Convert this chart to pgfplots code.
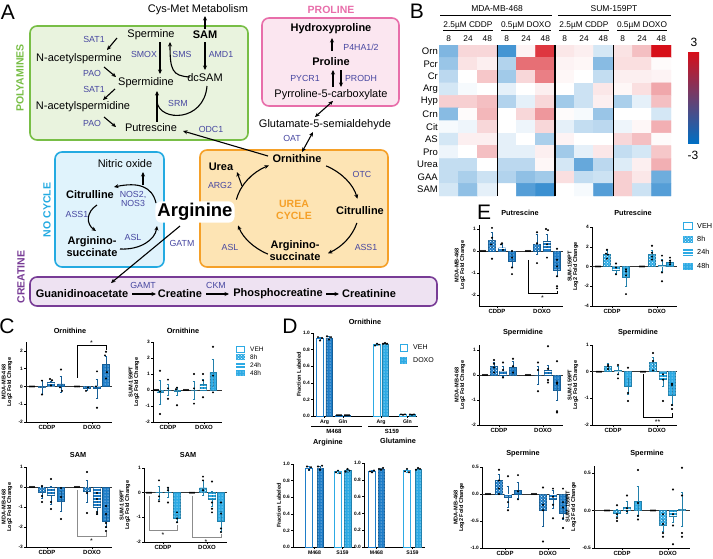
\documentclass[border=0pt]{standalone}
\usepackage{fontspec}
\setmainfont{Liberation Sans}
\usepackage{pgfplots}
\pgfplotsset{compat=1.18}
\usetikzlibrary{patterns,arrows.meta}

\definecolor{mda}{RGB}{30,125,200}
\definecolor{sumc}{RGB}{45,170,228}
\definecolor{enz}{RGB}{70,70,160}
\definecolor{gbox}{RGB}{120,190,70}
\definecolor{gfill}{RGB}{233,243,222}
\definecolor{pbox}{RGB}{232,110,170}
\definecolor{pfill}{RGB}{251,230,240}
\definecolor{bbox}{RGB}{35,170,225}
\definecolor{bfill}{RGB}{224,243,252}
\definecolor{obox}{RGB}{245,160,40}
\definecolor{ofill}{RGB}{253,228,180}
\definecolor{vbox}{RGB}{120,60,150}
\definecolor{vfill}{RGB}{238,226,242}

\newcommand{\fs}[1]{\fontsize{#1}{#1}\selectfont}

\pgfplotsset{
 gp/.style={scale only axis, anchor=south west, axis lines=left, axis line style={-, line width=0.6pt},
  every tick/.style={black, line width=0.5pt}, major tick length=2pt, tick align=outside, clip=false, enlargelimits=false,
  yticklabel style={font=\bfseries\fs{4.8}, inner sep=1pt},
  xticklabel style={font=\bfseries\fs{6}, inner sep=1.5pt},
  ylabel style={font=\bfseries\fs{5.6}, align=center, inner sep=1pt},
  /pgf/number format/assume math mode=true,
  extra y ticks={0}, extra y tick labels={}, extra y tick style={grid=major, major grid style={black!80, line width=0.5pt}}},
 dp/.style={scale only axis, anchor=south west, axis lines=left, axis line style={-, line width=0.6pt},
  every tick/.style={black, line width=0.5pt}, major tick length=2pt, tick align=outside, clip=false, enlargelimits=false,
  ymin=0, ymax=1, ytick={0,0.2,0.4,0.6,0.8,1},
  yticklabel style={font=\bfseries\fs{4.8}, inner sep=1pt, /pgf/number format/.cd, fixed, fixed zerofill, precision=1},
  xticklabel style={font=\bfseries\fs{5.2}, inner sep=1.5pt},
  ylabel style={font=\bfseries\fs{5.6}, align=center, inner sep=1pt},
  /pgf/number format/assume math mode=true},
}

\newcommand{\bset}[4]{%
 \addplot[ybar, bar width=#4, bar shift=0pt, fill=#1, draw=#1!75!black, line width=0.4pt,
   error bars/.cd, y dir=both, y explicit, error bar style={#1!75!black, line width=0.5pt},
   error mark options={rotate=90, mark size=1.4pt, #1!75!black, line width=0.5pt}] coordinates {#3};
 \addplot[ybar, bar width=#4, bar shift=0pt, draw=none, pattern=#2, pattern color=white] coordinates {#3};
}
\newcommand{\vset}[3]{%
 \addplot[ybar, bar width=#3, bar shift=0pt, fill=white, draw=#1, line width=0.7pt,
   error bars/.cd, y dir=both, y explicit, error bar style={#1, line width=0.5pt},
   error mark options={rotate=90, mark size=1.4pt, #1, line width=0.5pt}] coordinates {#2};
}
\newcommand{\pset}[1]{\addplot[only marks, mark=*, mark size=0.8pt, black] coordinates {#1};}

\tikzset{met/.style={font=\fs{11}, inner sep=0pt},
 bmet/.style={font=\bfseries\fs{11}, inner sep=0pt},
 enzt/.style={font=\fs{8.8}, text=enz, inner sep=0pt},
 arr/.style={-{Stealth[length=4.5pt,width=4pt]}, line width=1.1pt},
 darr/.style={{Stealth[length=4.5pt,width=4pt]}-{Stealth[length=4.5pt,width=4pt]}, line width=1.1pt},
 ttl/.style={font=\bfseries\fs{7.3}, inner sep=0pt}}

\begin{document}
\begin{tikzpicture}
\useasboundingbox (0,0) rectangle (713pt,-558pt);

%================ PANEL B heatmap
\begin{axis}[scale only axis, at={(439pt,-196pt)}, anchor=south west, width=232pt, height=151pt,
  xmin=-0.5, xmax=11.5, ymin=-0.5, ymax=11.5, y dir=reverse, enlargelimits=false,
  axis line style={draw=none}, tick style={draw=none}, xtick=\empty, ytick={0,...,11},
  yticklabels={Orn,Pcr,Cr,Arg,Hyp,Crn,Cit,AS,Pro,Urea,GAA,SAM},
  yticklabel style={font=\fs{9.5}, inner sep=1pt},
  colormap={bwr}{rgb255=(0,110,195) rgb255=(255,255,255) rgb255=(215,15,25)},
  point meta min=-3, point meta max=3]
\addplot[matrix plot*, mesh/cols=12, point meta=explicit] table[row sep=\\, meta=z] {
x y z\\
0 0 -1.5\\ 1 0 0.5\\ 2 0 0.5\\ 3 0 -2.2\\ 4 0 0.15\\ 5 0 2.5\\ 6 0 0.3\\ 7 0 0.2\\ 8 0 -0.5\\ 9 0 0.35\\ 10 0 0.8\\ 11 0 3\\
0 1 -1.2\\ 1 1 0.35\\ 2 1 0.2\\ 3 1 -0.9\\ 4 1 1.8\\ 5 1 1.8\\ 6 1 0.15\\ 7 1 0.1\\ 8 1 -1.4\\ 9 1 0.4\\ 10 1 0.4\\ 11 1 0.05\\
0 2 -0.8\\ 1 2 0\\ 2 2 0.7\\ 3 2 -1.1\\ 4 2 0.5\\ 5 2 1.6\\ 6 2 0.1\\ 7 2 0\\ 8 2 -0.7\\ 9 2 0.2\\ 10 2 0.2\\ 11 2 0.15\\
0 3 -0.5\\ 1 3 -0.1\\ 2 3 0\\ 3 3 -0.3\\ 4 3 0\\ 5 3 0.2\\ 6 3 0\\ 7 3 -0.6\\ 8 3 0.3\\ 9 3 0.1\\ 10 3 0.4\\ 11 3 1.1\\
0 4 0.6\\ 1 4 0.6\\ 2 4 0.8\\ 3 4 -0.9\\ 4 4 -0.3\\ 5 4 0.5\\ 6 4 -1.1\\ 7 4 -0.6\\ 8 4 0.2\\ 9 4 -1.0\\ 10 4 -0.3\\ 11 4 0.8\\
0 5 -1.4\\ 1 5 0.05\\ 2 5 0.9\\ 3 5 0\\ 4 5 0.5\\ 5 5 1.3\\ 6 5 0.05\\ 7 5 -0.1\\ 8 5 -1.2\\ 9 5 0\\ 10 5 0\\ 11 5 -0.5\\
0 6 -0.1\\ 1 6 -0.2\\ 2 6 0.5\\ 3 6 0\\ 4 6 -0.2\\ 5 6 0.5\\ 6 6 -0.3\\ 7 6 -0.7\\ 8 6 -0.8\\ 9 6 -0.2\\ 10 6 0.1\\ 11 6 1.0\\
0 7 -0.5\\ 1 7 0.2\\ 2 7 0.2\\ 3 7 -0.3\\ 4 7 0\\ 5 7 -1.0\\ 6 7 0.15\\ 7 7 0\\ 8 7 0\\ 9 7 0.5\\ 10 7 0.8\\ 11 7 0.05\\
0 8 -0.2\\ 1 8 0\\ 2 8 0.8\\ 3 8 -0.3\\ 4 8 -0.3\\ 5 8 0.2\\ 6 8 -1.1\\ 7 8 -0.3\\ 8 8 0.3\\ 9 8 -0.7\\ 10 8 -0.5\\ 11 8 0.7\\
0 9 -0.7\\ 1 9 -0.7\\ 2 9 0\\ 3 9 -0.8\\ 4 9 -0.8\\ 5 9 0.1\\ 6 9 -0.5\\ 7 9 -1.8\\ 8 9 -0.8\\ 9 9 -0.4\\ 10 9 0.2\\ 11 9 1.0\\
0 10 -0.7\\ 1 10 -1.0\\ 2 10 -0.6\\ 3 10 -0.9\\ 4 10 -1.3\\ 5 10 -1.1\\ 6 10 0.4\\ 7 10 -0.7\\ 8 10 -0.6\\ 9 10 0.6\\ 10 10 0.3\\ 11 10 -1.7\\
0 11 -0.5\\ 1 11 -1.3\\ 2 11 -0.3\\ 3 11 0\\ 4 11 -2.0\\ 5 11 -2.3\\ 6 11 0\\ 7 11 -0.1\\ 8 11 -2.0\\ 9 11 0.6\\ 10 11 -0.6\\ 11 11 -2.0\\
};
\end{axis}
\shade[top color={rgb,255:red,215;green,15;blue,25}, middle color=white, bottom color={rgb,255:red,0;green,110;blue,195}] (688pt,-52pt) rectangle (699pt,-143pt);

%================ PANEL C
\begin{axis}[gp, at={(26pt,-422pt)}, width=86pt, height=80pt, xmin=26, xmax=112, ymin=-2, ymax=2.5,
  ytick={-2,-1,0,1,2}, xtick={47,92}, xticklabels={CDDP,DOXO}, ylabel={MDA-MB-468\\Log2 Fold Change}]
\bset{mda}{crosshatch dots}{(42,-0.05)+-(0,0.4) (87,-0.1)+-(0,0.1)}{7}
\bset{mda}{horizontal lines}{(51,0.22)+-(0,0.1) (97,-0.12)+-(0,0.55)}{7}
\bset{mda}{dots}{(61,0.15)+-(0,0.45) (106,1.25)+-(0,0.45)}{7}
\pset{(30,0)(32,0)(34,0)(75,0)(77,0)(79,0)(42,0.33)(42,-0.45)(50,0.42)(52,0.35)(51,0.05)(61,0.95)(60,-0.05)(62,-0.25)(86,-0.25)(88,-0.05)(97,0.85)(97,-1.2)(96,0.0)(106,1.95)(105,1.75)(107,0.8)(106,0.45)}
\draw[line width=0.5pt] (axis cs:77,0.5)--(axis cs:77,2.3)--(axis cs:106,2.3)--(axis cs:106,2.05);
\node[font=\fs{7}] at (axis cs:91.5,2.42) {*};
\end{axis}

\begin{axis}[gp, at={(153pt,-422pt)}, width=69pt, height=80pt, xmin=153, xmax=222, ymin=-2, ymax=3,
  ytick={-2,-1,0,1,2,3}, xtick={168,204}, xticklabels={CDDP,DOXO}, ylabel={SUM-159PT\\Log2 Fold Change}]
\bset{sumc}{crosshatch dots}{(160,-0.15)+-(0,0.75) (194,0.0)+-(0,0.55)}{6.5}
\bset{sumc}{horizontal lines}{(168,0.0)+-(0,0.35) (203,0.35)+-(0,0.3)}{6.5}
\bset{sumc}{dots}{(177,-0.1)+-(0,0.25) (213,1.1)+-(0,0.85)}{6.5}
\pset{(154,0)(156,0)(158,0)(184,0)(186,0)(188,0)(160,1.2)(160,-0.1)(160,-1.5)(168,0.65)(168,0.1)(168,-0.55)(177,0.15)(176,0.05)(177,-0.95)(194,1.0)(194,0.1)(194,-0.85)(203,1.0)(203,0.6)(203,-0.45)(213,2.7)(213,0.9)(213,-0.15)}
\end{axis}

\begin{axis}[gp, at={(26pt,-547pt)}, width=86pt, height=80pt, xmin=26, xmax=112, ymin=-3, ymax=1,
  ytick={-3,-2,-1,0,1}, xtick={47,92}, xticklabels={CDDP,DOXO}, ylabel={MDA-MB-468\\Log2 Fold Change}]
\bset{mda}{crosshatch dots}{(42,-0.25)+-(0,0.3) (87,-0.2)+-(0,0.55)}{7}
\bset{mda}{horizontal lines}{(51,-0.4)+-(0,0.45) (97,-1.0)+-(0,0.35)}{7}
\bset{mda}{dots}{(61,-0.7)+-(0,0.5) (106,-1.7)+-(0,0.3)}{7}
\pset{(30,0)(32,0)(34,0)(75,0)(77,0)(79,0)(42,0.05)(42,-0.45)(42,-0.75)(51,0.4)(51,-0.75)(51,-1.1)(61,-0.05)(61,-0.5)(61,-1.6)(87,0.75)(87,-0.3)(87,-1.3)(97,-0.3)(97,-0.6)(97,-1.25)(97,-1.35)(106,-0.95)(106,-1.35)(106,-1.8)(106,-2.0)(106,-2.2)}
\draw[black!45, line width=0.8pt] (axis cs:77,-0.15)--(axis cs:77,-2.45)--(axis cs:106,-2.45)--(axis cs:106,-2.25);
\node[font=\fs{7}] at (axis cs:91.5,-2.72) {*};
\end{axis}

\begin{axis}[gp, at={(144pt,-542pt)}, width=83pt, height=74pt, xmin=144, xmax=227, ymin=-2, ymax=1,
  ytick={-2,-1,0,1}, xtick={163,207}, xticklabels={CDDP,DOXO}, ylabel={SUM-159PT\\Log2 Fold Change}]
\bset{sumc}{crosshatch dots}{(159,0.0)+-(0,0.28) (203,0.2)+-(0,0.3)}{7}
\bset{sumc}{horizontal lines}{(168,0.0)+-(0,0.2) (212,-0.25)+-(0,0.3)}{7}
\bset{sumc}{dots}{(177,-1.05)+-(0,0.15) (221,-1.15)+-(0,0.4)}{7}
\pset{(147,0)(149,0)(151,0)(190,0)(192,0)(194,0)(159,0.5)(159,-0.15)(159,-0.35)(168,0.2)(168,0.1)(168,-0.4)(177,-0.8)(177,-1.05)(177,-1.2)(203,0.65)(203,0.5)(203,0.1)(212,0.45)(212,-0.4)(212,-0.65)(212,-0.8)(221,-0.4)(221,-0.85)(221,-1.45)(221,-1.6)}
\draw[black!45, line width=0.8pt] (axis cs:149,-0.12)--(axis cs:149,-1.52)--(axis cs:177,-1.52)--(axis cs:177,-1.32);
\node[font=\fs{7}] at (axis cs:163,-1.72) {*};
\draw[black!45, line width=0.8pt] (axis cs:192,-0.12)--(axis cs:192,-1.8)--(axis cs:221,-1.8)--(axis cs:221,-1.68);
\node[font=\fs{7}] at (axis cs:206,-2.0) {*};
\end{axis}

%================ PANEL D
\begin{axis}[dp, at={(313pt,-416pt)}, width=104pt, height=83pt, xmin=313, xmax=417,
  xtick={324.5,343,381,407.5}, xticklabels={Arg,Gln,Arg,Gln}, ylabel={Fraction Labeled}]
\vset{mda}{(320,0.93)+-(0,0.02) (339,0.01)+-(0,0.003)}{6.5}
\vset{sumc}{(377,0.86)+-(0,0.01) (403,0.02)+-(0,0.004)}{6.5}
\bset{mda}{dots}{(329,0.94)+-(0,0.02) (347,0.01)+-(0,0.003)}{6.5}
\bset{sumc}{dots}{(385,0.87)+-(0,0.01) (412,0.02)+-(0,0.004)}{6.5}
\pset{(318,0.95)(320,0.91)(322,0.94)(327,0.96)(329,0.92)(331,0.95)(375,0.85)(377,0.87)(379,0.86)(383,0.87)(385,0.88)(387,0.87)(337,0.01)(339,0.01)(341,0.01)(345,0.01)(347,0.01)(349,0.01)(401,0.02)(403,0.015)(405,0.02)(410,0.02)(412,0.015)(414,0.02)}
\end{axis}

\begin{axis}[dp, at={(293pt,-547pt)}, width=62pt, height=83pt, xmin=293, xmax=355,
  xtick={314.5,342.5}, xticklabels={M468,S159}, ylabel={Fraction Labeled}]
\vset{mda}{(309,0.95)+-(0,0.02)}{6.5}
\vset{sumc}{(338,0.91)+-(0,0.02)}{6.5}
\bset{mda}{dots}{(320,0.95)+-(0,0.02)}{6.5}
\bset{sumc}{dots}{(347.5,0.92)+-(0,0.02)}{6.5}
\pset{(307,0.97)(309,0.93)(311,0.96)(318,0.97)(320,0.93)(322,0.98)(336,0.90)(338,0.92)(340,0.89)(345.5,0.91)(347.5,0.94)(349.5,0.92)}
\end{axis}

\begin{axis}[dp, at={(364pt,-547pt)}, width=61pt, height=84pt, xmin=364, xmax=425,
  xtick={376.5,412.5}, xticklabels={M468,S159}]
\vset{mda}{(372,0.90)+-(0,0.01)}{6.5}
\vset{sumc}{(407,0.91)+-(0,0.02)}{6.5}
\bset{mda}{dots}{(381,0.93)+-(0,0.01)}{6.5}
\bset{sumc}{dots}{(418,0.93)+-(0,0.01)}{6.5}
\pset{(370,0.90)(372,0.89)(374,0.91)(379,0.93)(381,0.92)(383,0.94)(405,0.90)(407,0.93)(409,0.89)(416,0.92)(418,0.94)(420,0.93)}
\end{axis}

%================ PANEL E
\begin{axis}[gp, at={(479pt,-306pt)}, width=84pt, height=81.4pt, xmin=479, xmax=563, ymin=-2.5, ymax=1.2,
  ytick={-2,-1,0,1}, xtick={497,542}, xticklabels={CDDP,DOXO}, ylabel={MDA-MB-468\\Log2 Fold Change}]
\bset{mda}{crosshatch dots}{(492,0.5)+-(0,0.35) (537,0.3)+-(0,0.45)}{7}
\bset{mda}{horizontal lines}{(502,0.15)+-(0,0.15) (547,0.45)+-(0,0.3)}{7}
\bset{mda}{dots}{(512,-0.45)+-(0,0.3) (557,-0.85)+-(0,0.3)}{7}
\pset{(481,0)(483,0)(485,0)(526,0)(528,0)(530,0)(492,1.05)(492,0.6)(491,0.3)(492,-0.35)(502,0.35)(501,0.3)(503,0.05)(512,0.0)(512,-0.3)(512,-0.75)(512,-1.05)(537,0.85)(537,0.35)(537,-0.55)(546,1.0)(548,0.95)(547,0.3)(547,-0.3)(557,0.1)(557,-0.4)(557,-0.7)(557,-1.15)(557,-1.6)(557,-1.7)}
\draw[line width=0.5pt] (axis cs:528,-0.4)--(axis cs:528,-1.9)--(axis cs:557,-1.9)--(axis cs:557,-1.8);
\node[font=\fs{7}] at (axis cs:542.5,-2.12) {*};
\end{axis}

\begin{axis}[gp, at={(592pt,-306pt)}, width=85pt, height=79pt, xmin=592, xmax=677, ymin=-4, ymax=4,
  ytick={-4,-2,0,2,4}, xtick={612,657}, xticklabels={CDDP,DOXO}, ylabel={SUM-159PT\\Log2 Fold Change}]
\bset{sumc}{crosshatch dots}{(607,1.2)+-(0,0.45) (652,1.2)+-(0,0.45)}{7}
\bset{sumc}{horizontal lines}{(616,-0.4)+-(0,0.3) (662,0.1)+-(0,0.6)}{7}
\bset{sumc}{dots}{(626,-1.1)+-(0,0.9) (670,0.4)+-(0,0.2)}{7}
\pset{(596,0)(598,0)(600,0)(640,0)(642,0)(644,0)(607,1.7)(606,1.3)(608,1.2)(607,0.8)(616,0.3)(616,-0.1)(616,-0.8)(626,-0.3)(626,-0.5)(626,-0.9)(626,-2.8)(652,2.1)(652,1.4)(652,1.0)(652,0.7)(662,1.1)(662,0.6)(662,-0.6)(662,-1.5)(670,0.9)(670,0.6)(670,0.4)(670,0.2)}
\end{axis}

\begin{axis}[gp, at={(479pt,-425pt)}, width=84pt, height=80pt, xmin=479, xmax=563, ymin=-2, ymax=1.2,
  ytick={-2,-1,0,1}, xtick={499,543}, xticklabels={CDDP,DOXO}, ylabel={MDA-MB-468\\Log2 Fold Change}]
\bset{mda}{crosshatch dots}{(494,0.35)+-(0,0.15) (538,0.0)+-(0,0.35)}{7}
\bset{mda}{horizontal lines}{(503,0.15)+-(0,0.2) (548,0.2)+-(0,0.2)}{7}
\bset{mda}{dots}{(513,0.3)+-(0,0.25) (557,-0.6)+-(0,0.4)}{7}
\pset{(483,0)(485,0)(487,0)(526,0)(528,0)(530,0)(494,0.6)(494,0.45)(494,0.3)(494,0.1)(503,0.5)(503,0.2)(503,-0.1)(513,0.65)(513,0.35)(513,0.1)(538,0.5)(538,0.2)(538,-0.65)(548,1.15)(548,0.25)(548,-0.2)(548,-0.3)(557,0.55)(557,-0.3)(557,-0.35)(557,-1.45)(557,-1.5)}
\end{axis}

\begin{axis}[gp, at={(592pt,-425pt)}, width=85pt, height=80pt, xmin=592, xmax=677, ymin=-2, ymax=1,
  ytick={-2,-1,0,1}, xtick={613,657}, xticklabels={CDDP,DOXO}, ylabel={SUM-159PT\\Log2 Fold Change}]
\bset{sumc}{crosshatch dots}{(608,0.2)+-(0,0.1) (653,0.35)+-(0,0.2)}{7}
\bset{sumc}{horizontal lines}{(618,0.05)+-(0,0.15) (663,-0.3)+-(0,0.25)}{7}
\bset{sumc}{dots}{(628,-0.55)+-(0,0.3) (672,-0.9)+-(0,0.35)}{7}
\pset{(597,0)(599,0)(601,0)(641,0)(643,0)(645,0)(608,0.25)(608,0.2)(608,0.1)(618,0.25)(618,-0.1)(618,-0.25)(628,0.15)(628,-0.8)(628,-1.1)(653,0.7)(653,0.4)(653,0.05)(663,-0.1)(663,-0.3)(663,-1.1)(672,-0.45)(672,-0.5)(672,-1.25)(672,-1.4)}
\draw[line width=0.5pt] (axis cs:643,-0.1)--(axis cs:643,-1.7)--(axis cs:672,-1.7)--(axis cs:672,-1.55);
\node[font=\fs{7}] at (axis cs:657.5,-1.9) {**};
\end{axis}

\begin{axis}[gp, at={(482pt,-548pt)}, width=88pt, height=81pt, xmin=482, xmax=570, ymin=-1, ymax=0.5,
  ytick={-1,-0.5,0,0.5}, yticklabel style={/pgf/number format/.cd, fixed, fixed zerofill, precision=1},
  xtick={505,548}, xticklabels={CDDP,DOXO}, ylabel={MDA-MB-468\\Log2 Fold Change}]
\bset{mda}{crosshatch dots}{(499,0.25)+-(0,0.12) (543,-0.3)+-(0,0.3)}{7}
\bset{mda}{horizontal lines}{(508,-0.05)+-(0,0.2) (553,-0.1)+-(0,0.17)}{7}
\bset{mda}{dots}{(518,0.07)+-(0,0.15) (563,-0.35)+-(0,0.12)}{7}
\pset{(486,0)(488,0)(490,0)(532,0)(534,0)(536,0)(499,0.45)(499,0.25)(499,0.1)(499,0.0)(508,0.33)(508,-0.15)(508,-0.3)(518,0.35)(518,0.05)(518,-0.1)(543,0.12)(543,-0.2)(543,-0.3)(543,-0.88)(553,0.1)(553,-0.05)(553,-0.2)(553,-0.45)(563,0.1)(563,-0.15)(563,-0.25)(563,-0.45)(563,-0.63)}
\end{axis}

\begin{axis}[gp, at={(594pt,-548pt)}, width=96pt, height=82.5pt, xmin=594, xmax=690, ymin=-0.5, ymax=0.6,
  ytick={-0.5,0,0.5}, yticklabel style={/pgf/number format/.cd, fixed, fixed zerofill, precision=1},
  xtick={622,668}, xticklabels={CDDP,DOXO}, ylabel={SUM-159PT\\Log2 Fold Change}]
\bset{sumc}{crosshatch dots}{(617,-0.03)+-(0,0.05) (663,-0.2)+-(0,0.08)}{7}
\bset{sumc}{horizontal lines}{(627,0.04)+-(0,0.08) (673,-0.08)+-(0,0.08)}{7}
\bset{sumc}{dots}{(638,0.12)+-(0,0.2) (682,0.02)+-(0,0.23)}{7}
\pset{(605,0)(607,0)(609,0)(651,0)(653,0)(655,0)(617,0.07)(617,-0.05)(617,-0.1)(617,-0.14)(627,0.2)(627,0.03)(627,-0.01)(638,0.54)(638,0.1)(638,-0.07)(638,-0.12)(663,-0.05)(663,-0.18)(663,-0.3)(663,-0.35)(673,0.28)(673,-0.05)(673,-0.2)(673,-0.45)(682,0.57)(682,0.2)(682,-0.3)(682,-0.35)}
\end{axis}

%================ annotations and diagram
\begin{scope}[x=1pt,y=-1pt]
% panel letters
\node[font=\fs{21}, inner sep=0pt] at (8,12) {A};
\node[font=\fs{21}, inner sep=0pt] at (417,11) {B};
\node[font=\fs{21}, inner sep=0pt] at (7,326) {C};
\node[font=\fs{21}, inner sep=0pt] at (290,326) {D};
\node[font=\fs{21}, inner sep=0pt] at (484,212) {E};

% heatmap header
\node[font=\fs{8.5}, inner sep=0pt] at (497,9) {MDA-MB-468};
\draw[line width=0.8pt] (440,15)--(552,15);
\node[font=\fs{8.5}, inner sep=0pt] at (614,9) {SUM-159PT};
\draw[line width=0.8pt] (558,15)--(671,15);
\foreach \cx/\lab in {468/{2.5µM CDDP},526/{0.5µM DOXO},584/{2.5µM CDDP},642/{0.5µM DOXO}}
  \node[font=\fs{8.3}, inner sep=0pt] at (\cx,26) {\underline{\lab}};
\foreach \i/\lab in {0/8,1/24,2/48,3/8,4/24,5/48,6/8,7/24,8/48,9/8,10/24,11/48}
  \node[font=\fs{8.3}, inner sep=0pt] at ({448.7+19.33*\i},38.5) {\lab};
\draw[line width=0.9pt] (497,45)--(497,196);
\draw[line width=2pt] (555,45)--(555,196);
\draw[line width=0.9pt] (613,45)--(613,196);
\node[font=\fs{12}, inner sep=0pt] at (694,42) {3};
\node[font=\fs{12}, inner sep=0pt] at (693,155) {-3};

% chart titles
\node[ttl] at (70,331) {Ornithine};
\node[ttl] at (183,331) {Ornithine};
\node[ttl] at (78,455) {SAM};
\node[ttl] at (188,455) {SAM};
\node[ttl] at (365,322) {Ornithine};
\node[ttl] at (328,443) {Arginine};
\node[ttl] at (398,441) {Glutamine};
\node[ttl] at (520,213) {Putrescine};
\node[ttl] at (633,213) {Putrescine};
\node[ttl] at (523,333) {Spermidine};
\node[ttl] at (638,333) {Spermidine};
\node[ttl] at (523,454) {Spermine};
\node[ttl] at (647,454) {Spermine};

% D1 group labels
\draw[line width=0.9pt] (311,426)--(362,426);
\draw[line width=0.9pt] (368,426)--(418,426);
\node[font=\bfseries\fs{6}, inner sep=0pt] at (334,431) {M468};
\node[font=\bfseries\fs{6}, inner sep=0pt] at (392,431) {S159};

% legend C
\foreach \yy/\pat/\lab in {357/crosshatch dots/8h,365/horizontal lines/24h,373/dots/48h}{
  \fill[sumc] (236,\yy-3) rectangle (245,\yy+3);
  \fill[pattern=\pat, pattern color=white] (236,\yy-3) rectangle (245,\yy+3);
  \node[font=\fs{6.5}, anchor=west, inner sep=0pt] at (250,\yy) {\lab};}
\draw[sumc, line width=0.7pt, fill=white] (236.5,346) rectangle (244.5,352);
\node[font=\fs{6.5}, anchor=west, inner sep=0pt] at (250,349) {VEH};

% legend D
\draw[sumc, line width=0.7pt, fill=white] (400,344) rectangle (407,351);
\node[font=\fs{7}, anchor=west, inner sep=0pt] at (413,347.5) {VEH};
\fill[sumc] (400,357) rectangle (407,364);
\fill[pattern=dots, pattern color=white] (400,357) rectangle (407,364);
\node[font=\fs{7}, anchor=west, inner sep=0pt] at (413,360.5) {DOXO};

% legend E
\foreach \yy/\pat/\lab in {239/crosshatch dots/8h,252/horizontal lines/24h,266/dots/48h}{
  \fill[sumc] (683,\yy-3.5) rectangle (693,\yy+3.5);
  \fill[pattern=\pat, pattern color=white] (683,\yy-3.5) rectangle (693,\yy+3.5);
  \node[font=\fs{7.3}, anchor=west, inner sep=0pt] at (697,\yy) {\lab};}
\draw[sumc, line width=0.7pt, fill=white] (683.5,222.5) rectangle (692.5,229.5);
\node[font=\fs{7.3}, anchor=west, inner sep=0pt] at (697,226) {VEH};

% ---------------- panel A boxes
\draw[gbox, fill=gfill, line width=1.6pt, rounded corners=7pt] (30,26) rectangle (248,140);
\draw[pbox, fill=pfill, line width=1.6pt, rounded corners=7pt] (262,18) rectangle (399,106);
\draw[bbox, fill=bfill, line width=1.6pt, rounded corners=7pt] (55,152) rectangle (164,267);
\draw[obox, fill=ofill, line width=1.6pt, rounded corners=7pt] (200,150) rectangle (388,267);
\draw[vbox, fill=vfill, line width=1.6pt, rounded corners=7pt] (30,277) rectangle (437,306);

\node[rotate=90, font=\bfseries\fs{10.5}, text=gbox, inner sep=0pt] at (20,78) {POLYAMINES};
\node[font=\bfseries\fs{10.5}, text=pbox, inner sep=0pt] at (331,10) {PROLINE};
\node[rotate=90, font=\bfseries\fs{10.5}, text=bbox, inner sep=0pt] at (47,210) {NO CYCLE};
\node[rotate=90, font=\bfseries\fs{10.5}, text=vbox, inner sep=0pt] at (21,277) {CREATINE};
\node[font=\bfseries\fs{10.5}, text=obox, inner sep=0pt, align=center] at (294,210) {UREA\\[1pt]CYCLE};

% polyamines
\node[met] at (198,10) {Cys-Met Metabolism};
\draw[arr] (205,29) -- (205,16);
\node[met] at (151,35) {Spermine};
\node[bmet] at (205,35) {SAM};
\node[enzt] at (94,39) {SAT1};
\draw[arr] (117,38) -- (107,50);
\node[met] at (79,59) {N-acetylspermine};
\node[enzt] at (144,54) {SMOX};
\node[enzt] at (182,54) {SMS};
\node[enzt] at (221,54) {AMD1};
\draw[arr] (160,42) -- (160,74);
\draw[arr] (190,77) .. controls (172,76) and (170,70) .. (170,42);
\draw[arr] (205,42) -- (205,70);
\node[met] at (205,78) {dcSAM};
\node[enzt] at (92,73) {PAO};
\draw[arr] (104,67) -- (116,77);
\node[met] at (146,83) {Spermidine};
\node[enzt] at (94,89) {SAT1};
\draw[arr] (115,89) -- (103,100);
\node[met] at (83,107) {N-acetylspermidine};
\node[enzt] at (178,103) {SRM};
\draw[line width=1.1pt] (207,86) .. controls (204,122) and (160,122) .. (157,102);
\draw[arr] (157,122) -- (157,91);
\node[enzt] at (92,123) {PAO};
\draw[arr] (104,117) -- (116,127);
\node[met] at (151,128) {Putrescine};
\node[enzt] at (211,129) {ODC1};

% proline
\node[bmet] at (331,29) {Hydroxyproline};
\draw[arr] (332,51) -- (332,38);
\node[enzt] at (361,47) {P4HA1/2};
\node[bmet] at (331,62) {Proline};
\node[enzt] at (305,78) {PYCR1};
\draw[arr] (333,87) -- (333,70);
\draw[arr] (341,70) -- (341,87);
\node[enzt] at (361,78) {PRODH};
\node[met] at (331,95) {Pyrroline-5-carboxylate};
\draw[darr] (315,117) -- (333,101);
\node[met] at (325,125) {Glutamate-5-semialdehyde};
\node[enzt] at (292,138) {OAT};
\draw[darr] (302,152) -- (313,132);

% urea cycle
\node[bmet] at (297,159) {Ornithine};
\draw[arr] (268,156) -- (183,131);
\node[bmet] at (221,167) {Urea};
\node[enzt] at (220,185) {ARG2};
\node[enzt] at (362,174) {OTC};
\node[bmet] at (360,211) {Citrulline};
\node[enzt] at (366,247) {ASS1};
\node[enzt] at (230,247) {ASL};
\node[bmet, align=center] at (295,251) {Arginino-\\[1pt]succinate};
\draw[arr] ([shift={(-62:62 and 50)}]297,210) arc[start angle=-62, end angle=-13, x radius=62, y radius=50];
\draw[arr] ([shift={(15:62 and 50)}]297,210) arc[start angle=15, end angle=60, x radius=62, y radius=50];
\draw[arr] ([shift={(118:62 and 50)}]297,210) arc[start angle=118, end angle=162, x radius=62, y radius=50];
\draw[arr] ([shift={(192:62 and 50)}]297,210) arc[start angle=192, end angle=243, x radius=62, y radius=50];
\draw[arr] (242,186) -- (237,172);

% NO cycle
\node[met] at (125,164) {Nitric oxide};
\node[bmet] at (90,195) {Citrulline};
\node[enzt, align=center] at (133,199) {NOS2,\\[1pt]NOS3};
\node[enzt] at (77,214) {ASS1};
\node[bmet, align=center] at (92,247) {Arginino-\\[1pt]succinate};
\node[enzt] at (133,237) {ASL};
\draw[arr] (156,203) .. controls (152,186) and (138,182) .. (114,187);
\draw[arr] (143,185) -- (143,172);
\draw[arr] (97,205) .. controls (86,212) and (86,224) .. (96,231);
\draw[arr] (120,249) .. controls (140,250) and (155,240) .. (157,226);

% Arginine
\node[font=\bfseries\fs{18.5}, fill=white, rounded corners=6pt, inner sep=2pt] at (195,212) {Arginine};
\node[enzt] at (182,243) {GATM};
\draw[arr] (180,226) -- (111,283);

% creatine
\node[bmet] at (82,294) {Guanidinoacetate};
\node[enzt] at (143,285) {GAMT};
\draw[arr] (132,294) -- (156,294);
\node[bmet] at (180,294) {Creatine};
\node[enzt] at (216,285) {CKM};
\draw[arr] (206,294) -- (229,294);
\node[bmet] at (278,294) {Phosphocreatine};
\draw[arr] (326,294) -- (339,294);
\node[bmet] at (369,294) {Creatinine};
\end{scope}
\end{tikzpicture}
\end{document}
